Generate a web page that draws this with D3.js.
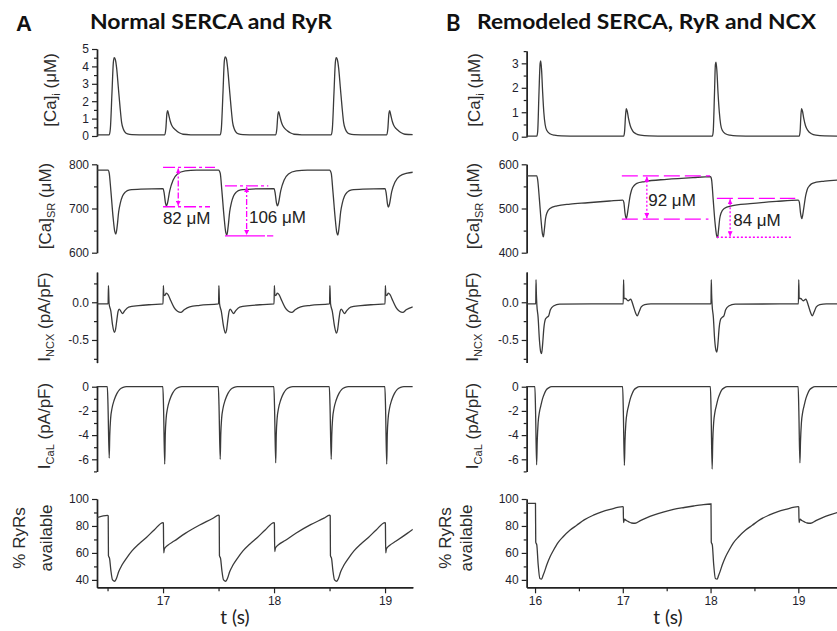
<!DOCTYPE html>
<html>
<head>
<meta charset="utf-8">
<script src="https://cdn.jsdelivr.net/npm/d3@7"></script>
<style>
  body { margin: 0; background: #fff; }
  svg { display: block; font-family: "Liberation Sans", Arial, sans-serif; }
</style>
</head>
<body>
<script>
const W = 837, H = 631;

// ---- traces, [t (s), value] ----
const caiA = [[16.405,0.06],[16.515,0.06],[16.525,0.4],[16.54,2.5],[16.552,4.2],[16.56,4.5],[16.57,4.4],[16.582,3.9],[16.597,2.8],[16.612,1.7],[16.627,0.77],[16.642,0.4],[16.657,0.22],[16.68,0.12],[16.72,0.08],[16.85,0.06],
  [17.015,0.06],[17.025,0.4],[17.035,1.3],[17.042,1.45],[17.05,1.25],[17.065,0.85],[17.078,0.62],[17.1,0.42],[17.123,0.29],[17.15,0.17],[17.18,0.1],[17.25,0.07],
  [17.515,0.06],[17.525,0.4],[17.54,2.5],[17.552,4.3],[17.56,4.55],[17.57,4.45],[17.582,3.9],[17.597,2.8],[17.612,1.7],[17.627,0.77],[17.642,0.4],[17.657,0.22],[17.68,0.12],[17.72,0.08],[17.85,0.06],
  [18.015,0.06],[18.025,0.4],[18.035,1.25],[18.042,1.4],[18.05,1.2],[18.065,0.82],[18.078,0.6],[18.1,0.41],[18.123,0.28],[18.15,0.17],[18.18,0.1],[18.25,0.07],
  [18.515,0.06],[18.525,0.4],[18.54,2.5],[18.552,4.2],[18.56,4.5],[18.57,4.4],[18.582,3.9],[18.597,2.8],[18.612,1.7],[18.627,0.77],[18.642,0.4],[18.657,0.22],[18.68,0.12],[18.72,0.08],[18.85,0.06],
  [19.015,0.06],[19.025,0.4],[19.035,1.3],[19.042,1.45],[19.05,1.25],[19.065,0.85],[19.078,0.62],[19.1,0.42],[19.123,0.29],[19.15,0.17],[19.18,0.1],[19.25,0.08]];

const caiB = [[15.905,0.02],[16.02,0.02],[16.03,0.2],[16.045,1.8],[16.058,3.0],[16.065,3.1],[16.075,2.7],[16.087,1.8],[16.1,1.0],[16.115,0.5],[16.135,0.25],[16.17,0.12],[16.22,0.06],[16.3,0.03],[16.5,0.02],[17.01,0.02],
  [17.02,0.2],[17.032,0.9],[17.04,1.15],[17.05,1.05],[17.065,0.75],[17.085,0.45],[17.11,0.25],[17.15,0.12],[17.2,0.06],[17.3,0.03],[17.5,0.02],[18.02,0.02],
  [18.03,0.2],[18.045,1.8],[18.055,2.95],[18.062,3.05],[18.072,2.7],[18.085,1.8],[18.1,1.0],[18.115,0.5],[18.135,0.25],[18.17,0.12],[18.22,0.06],[18.3,0.03],[18.5,0.02],[19.01,0.02],
  [19.02,0.2],[19.03,0.9],[19.037,1.15],[19.047,1.05],[19.062,0.75],[19.082,0.45],[19.11,0.25],[19.15,0.12],[19.2,0.06],[19.3,0.03],[19.5,0.02]];

const caSrA = [[16.405,787],[16.505,787],[16.515,780],[16.53,740],[16.55,680],[16.565,648],[16.575,642],[16.587,660],[16.6,692],[16.615,712],[16.635,728],[16.66,737],[16.7,742],[16.8,744],[17.0,745],
  [17.01,735],[17.022,712],[17.03,706],[17.04,712],[17.06,740],[17.09,764],[17.13,778],[17.2,785],[17.3,787],[17.5,787],
  [17.515,780],[17.53,740],[17.55,680],[17.565,646],[17.575,640],[17.587,660],[17.6,692],[17.615,712],[17.635,728],[17.66,737],[17.7,742],[17.8,744],[18.0,745],
  [18.01,735],[18.022,712],[18.03,706],[18.04,712],[18.06,740],[18.09,764],[18.13,778],[18.2,785],[18.3,787],[18.5,787],
  [18.515,780],[18.53,740],[18.55,680],[18.565,646],[18.575,640],[18.587,660],[18.6,692],[18.615,712],[18.635,728],[18.66,737],[18.7,742],[18.8,744],[19.0,745],
  [19.01,735],[19.022,710],[19.03,703],[19.04,710],[19.06,738],[19.09,760],[19.13,773],[19.2,780],[19.25,782]];

const caSrB = [[15.905,574],[16.02,574],[16.03,565],[16.05,520],[16.07,470],[16.085,442],[16.095,436],[16.105,450],[16.12,478],[16.135,490],[16.17,500],[16.25,506],[16.4,510],[16.6,513],[16.85,517],[17.0,519],
  [17.012,514],[17.025,490],[17.04,477],[17.05,485],[17.065,505],[17.085,530],[17.1,542],[17.13,552],[17.16,557],[17.25,561],[17.5,566],[17.8,570],[18.0,572],
  [18.012,565],[18.03,520],[18.05,470],[18.068,440],[18.08,434],[18.09,450],[18.105,478],[18.12,490],[18.155,500],[18.24,506],[18.45,511],[18.75,516],[19.0,519],
  [19.012,514],[19.025,490],[19.04,477],[19.05,485],[19.065,505],[19.085,530],[19.1,542],[19.13,552],[19.16,557],[19.3,562],[19.5,565]];

const ncxA = [[16.405,-0.02],[16.505,-0.02],[16.508,0.22],[16.511,0.1],[16.514,-0.02],[16.53,-0.12],[16.545,-0.3],[16.562,-0.4],[16.572,-0.36],[16.585,-0.22],[16.595,-0.12],[16.605,-0.09],[16.62,-0.12],[16.635,-0.15],[16.655,-0.11],[16.69,-0.065],[16.78,-0.045],[16.9,-0.03],
  [17.0,-0.02],[17.003,0.22],[17.007,0.1],[17.015,0.09],[17.03,0.12],[17.045,0.1],[17.07,0.02],[17.1,-0.07],[17.13,-0.12],[17.16,-0.135],[17.19,-0.1],[17.24,-0.06],[17.33,-0.04],
  [17.5,-0.02],[17.503,0.22],[17.506,0.1],[17.509,-0.02],[17.525,-0.12],[17.545,-0.32],[17.562,-0.41],[17.572,-0.37],[17.585,-0.22],[17.595,-0.12],[17.605,-0.09],[17.62,-0.12],[17.635,-0.15],[17.655,-0.11],[17.69,-0.065],[17.78,-0.045],[17.9,-0.03],
  [18.0,-0.02],[18.003,0.22],[18.007,0.1],[18.015,0.09],[18.03,0.12],[18.045,0.1],[18.07,0.02],[18.1,-0.07],[18.13,-0.12],[18.16,-0.135],[18.19,-0.1],[18.24,-0.06],[18.33,-0.04],
  [18.5,-0.02],[18.503,0.22],[18.506,0.1],[18.509,-0.02],[18.525,-0.12],[18.545,-0.32],[18.562,-0.41],[18.572,-0.37],[18.585,-0.22],[18.595,-0.12],[18.605,-0.09],[18.62,-0.12],[18.635,-0.15],[18.655,-0.11],[18.69,-0.065],[18.78,-0.045],[18.9,-0.03],
  [19.0,-0.02],[19.003,0.22],[19.007,0.1],[19.015,0.09],[19.03,0.12],[19.045,0.1],[19.07,0.02],[19.1,-0.07],[19.13,-0.12],[19.16,-0.135],[19.19,-0.1],[19.25,-0.06]];

const ncxB = [[15.905,-0.02],[16.008,-0.02],[16.011,0.3],[16.015,0.12],[16.02,-0.02],[16.035,-0.2],[16.05,-0.5],[16.065,-0.66],[16.075,-0.68],[16.087,-0.55],[16.1,-0.35],[16.12,-0.22],[16.135,-0.2],[16.155,-0.18],[16.175,-0.1],[16.21,-0.05],[16.28,-0.025],
  [17.005,-0.02],[17.009,0.3],[17.014,0.05],[17.03,0.05],[17.06,0.02],[17.09,0.04],[17.12,-0.05],[17.145,-0.14],[17.165,-0.18],[17.185,-0.13],[17.21,-0.06],[17.25,-0.03],[17.32,-0.02],
  [18.005,-0.02],[18.008,0.3],[18.012,0.12],[18.017,-0.02],[18.032,-0.2],[18.047,-0.5],[18.062,-0.64],[18.072,-0.66],[18.084,-0.55],[18.097,-0.35],[18.117,-0.22],[18.132,-0.2],[18.152,-0.18],[18.172,-0.1],[18.207,-0.05],[18.28,-0.025],
  [19.001,-0.02],[19.005,0.3],[19.01,0.05],[19.026,0.05],[19.056,0.02],[19.086,0.04],[19.116,-0.05],[19.141,-0.14],[19.158,-0.18],[19.18,-0.13],[19.205,-0.06],[19.245,-0.03],[19.32,-0.02],[19.5,-0.02]];

const calA = [[16.405,0],[16.498,0],[16.504,-1.5],[16.515,-5.9],[16.52,-4.0],[16.528,-2.6],[16.54,-1.8],[16.56,-1.1],[16.585,-0.55],[16.61,-0.22],[16.64,-0.05],[16.67,0],
  [16.998,0],[17.004,-1.5],[17.015,-6.4],[17.02,-4.0],[17.028,-2.6],[17.04,-1.8],[17.06,-1.1],[17.085,-0.55],[17.11,-0.22],[17.14,-0.05],[17.17,0],
  [17.498,0],[17.504,-1.5],[17.515,-6.0],[17.52,-4.0],[17.528,-2.6],[17.54,-1.8],[17.56,-1.1],[17.585,-0.55],[17.61,-0.22],[17.64,-0.05],[17.67,0],
  [17.998,0],[18.004,-1.5],[18.015,-6.3],[18.02,-4.0],[18.028,-2.6],[18.04,-1.8],[18.06,-1.1],[18.085,-0.55],[18.11,-0.22],[18.14,-0.05],[18.17,0],
  [18.498,0],[18.504,-1.5],[18.515,-6.0],[18.52,-4.0],[18.528,-2.6],[18.54,-1.8],[18.56,-1.1],[18.585,-0.55],[18.61,-0.22],[18.64,-0.05],[18.67,0],
  [18.998,0],[19.004,-1.5],[19.015,-6.4],[19.02,-4.0],[19.028,-2.6],[19.04,-1.8],[19.06,-1.1],[19.085,-0.55],[19.11,-0.22],[19.14,-0.05],[19.17,0],[19.25,0]];

const calB = [[15.905,0],[15.998,0],[16.006,-2],[16.018,-6.45],[16.025,-4.5],[16.035,-3.0],[16.05,-2.1],[16.065,-1.6],[16.085,-1.0],[16.105,-0.6],[16.13,-0.25],[16.155,-0.1],[16.19,0],
  [16.998,0],[17.006,-2],[17.018,-6.5],[17.025,-4.5],[17.035,-3.0],[17.05,-2.1],[17.065,-1.6],[17.085,-1.0],[17.105,-0.6],[17.13,-0.25],[17.155,-0.1],[17.19,0],
  [17.998,0],[18.006,-2],[18.018,-6.8],[18.025,-4.5],[18.035,-3.0],[18.05,-2.1],[18.065,-1.6],[18.085,-1.0],[18.105,-0.6],[18.13,-0.25],[18.155,-0.1],[18.19,0],
  [18.998,0],[19.006,-2],[19.018,-6.3],[19.025,-4.5],[19.035,-3.0],[19.05,-2.1],[19.065,-1.6],[19.085,-1.0],[19.105,-0.6],[19.13,-0.25],[19.155,-0.1],[19.19,0],[19.5,0]];

const ryrA = [[16.405,86.2],[16.5,87.8],[16.506,87.5],[16.508,58],[16.518,56],[16.53,47],[16.545,40],[16.565,39],[16.58,41],[16.6,46],[16.63,51],[16.67,56],[16.72,61.5],[16.78,66.5],[16.85,71.5],[16.92,77],[17.0,82.5],
  [17.003,82],[17.006,60],[17.012,63],[17.04,65.5],[17.1,68.8],[17.2,74.5],[17.33,80.7],[17.45,85.7],[17.5,88],
  [17.506,87.5],[17.508,58],[17.518,56],[17.53,47],[17.545,40],[17.565,39],[17.58,41],[17.6,46],[17.63,51],[17.67,56],[17.72,61.5],[17.78,66.5],[17.85,71.5],[17.92,77],[18.0,82.5],
  [18.003,82],[18.006,61],[18.012,63.5],[18.04,66],[18.1,69.2],[18.2,74.8],[18.33,81],[18.45,85.8],[18.5,88],
  [18.506,87.5],[18.508,58],[18.518,56],[18.53,47],[18.545,40],[18.565,39],[18.58,41],[18.6,46],[18.63,51],[18.67,56],[18.72,61.5],[18.78,66.5],[18.85,71.5],[18.92,77],[19.0,82.5],
  [19.003,82],[19.006,60],[19.012,63],[19.04,65.5],[19.1,68.8],[19.2,74.5],[19.25,77.5]];

const ryrB = [[15.905,96.8],[16.005,96.8],[16.008,68],[16.02,66],[16.035,52],[16.055,41],[16.075,40.5],[16.09,43],[16.11,46.5],[16.133,51],[16.17,57],[16.21,62],[16.26,67.5],[16.32,72],[16.4,77],[16.475,80.5],[16.56,84.5],[16.665,88],[16.76,90.5],[16.856,92.3],[17.0,94.3],
  [17.005,94],[17.008,82.5],[17.02,85],[17.04,84],[17.07,83],[17.1,82.2],[17.14,82],[17.2,84],[17.27,86],[17.35,88],[17.46,90.3],[17.578,92.3],[17.7,93.7],[17.806,94.8],[17.9,95.7],[18.0,96.3],
  [18.005,96.3],[18.008,68],[18.02,66],[18.035,52],[18.055,41],[18.075,40.5],[18.09,43],[18.11,46.5],[18.133,51],[18.17,57],[18.21,62],[18.26,67.5],[18.32,72],[18.4,77],[18.475,80.5],[18.56,84.5],[18.665,88],[18.76,90.5],[18.856,92.3],[19.0,94.3],
  [19.005,94],[19.008,82.5],[19.02,85],[19.04,84],[19.07,83],[19.1,82.2],[19.14,82],[19.2,84],[19.27,86],[19.35,88],[19.46,90.3],[19.5,91]];

// ---- tick values ----
const xMajorA = [17, 18, 19], xMinorA = [16.5, 17.5, 18.5];
const xMajorB = [16, 17, 18, 19], xMinorB = [16.5, 17.5, 18.5];

// ---- SR depletion annotations (values in µM, times in s) ----
const annA = [
  {top: 793, bottom: 704, from: 17.0, toTop: 17.468, toBottom: 17.423, at: 17.137, label: "82 μM", labelT: 17.213, labelV: 665},
  {top: 751, bottom: 638, from: 17.558, toTop: 17.948, toBottom: 17.993, at: 17.753, label: "106 μM", labelT: 17.774, labelV: 667}
];
const annB = [
  {top: 574, bottom: 476, from: 16.989, toTop: 17.995, toBottom: 17.976, at: 17.274, label: "92 μM", labelT: 17.29, labelV: 505},
  {top: 523, bottom: 435, from: 18.072, toTop: 18.965, toBottom: 18.927, at: 18.223, label: "84 μM", labelT: 18.258, labelV: 460}
];

const svg = d3.select("body").append("svg").attr("width", W).attr("height", H);
const defs = svg.append("defs");
defs.append("marker").attr("id", "arr")
  .attr("viewBox", "0 0 6 6").attr("refX", 6).attr("refY", 3)
  .attr("markerWidth", 5).attr("markerHeight", 5).attr("markerUnits", "userSpaceOnUse")
  .attr("orient", "auto-start-reverse")
  .append("path").attr("d", "M0,0L6,3L0,6z").attr("fill", "#ff00ff");

const cols = {
  A: {id: "A", x: d3.scaleLinear().domain([16.405, 19.25]).range([97, 412.8])},
  B: {id: "B", x: d3.scaleLinear().domain([15.905, 19.5]).range([526.7, 842.2])}
};
Object.values(cols).forEach(c => {
  defs.append("clipPath").attr("id", "clip" + c.id).append("rect")
    .attr("x", c.x.range()[0]).attr("y", 30).attr("width", c.x.range()[1] - c.x.range()[0]).attr("height", 580);
});

const AX = "#222";
const TXT = "#1e1e2e";

function styleAxis(g) {
  g.select(".domain").attr("stroke", AX).attr("stroke-width", 1.4);
  g.selectAll(".tick line").attr("stroke", AX).attr("stroke-width", 1.2);
  g.selectAll(".tick text").attr("fill", TXT).attr("font-size", 12).attr("font-family", "Liberation Sans, Arial, sans-serif");
}

function panel(col, dom, rng, data, major, minor, fmt) {
  const y = d3.scaleLinear().domain(dom).range(rng);
  const x = col.x;
  svg.append("g").attr("transform", `translate(${x.range()[0]},0)`)
    .call(d3.axisLeft(y).tickValues(minor).tickSize(3).tickSizeOuter(0).tickFormat(""))
    .call(styleAxis);
  svg.append("g").attr("transform", `translate(${x.range()[0]},0)`)
    .call(d3.axisLeft(y).tickValues(major).tickSize(5).tickPadding(3).tickSizeOuter(0).tickFormat(fmt))
    .call(styleAxis);
  const line = d3.line().x(d => x(d[0])).y(d => y(d[1])).curve(d3.curveMonotoneX);
  svg.append("path").datum(data)
    .attr("clip-path", `url(#clip${col.id})`)
    .attr("fill", "none").attr("stroke", "#3a3a3a").attr("stroke-width", 1.3)
    .attr("d", line);
  return y;
}

function yLabel(x, y, parts, size) {
  const t = svg.append("text")
    .attr("transform", `translate(${x},${y}) rotate(-90)`)
    .attr("text-anchor", "middle").attr("font-size", size || 17).attr("fill", "#2b2b2b");
  let sub = false;
  parts.forEach(p => {
    const isSub = p[1] === true;
    t.append("tspan").text(p[0])
      .attr("dy", isSub && !sub ? 4 : (!isSub && sub ? -4 : 0))
      .attr("font-size", isSub ? 11 : null);
    sub = isSub;
  });
}

const f0 = d => String(d);
const f1 = d => d.toFixed(1);

// Column A
const yCaiA = panel(cols.A, [0, 5], [136, 49], caiA, [0, 1, 2, 3, 4, 5], [0.5, 1.5, 2.5, 3.5, 4.5], f0);
const ySrA = panel(cols.A, [600, 800], [252.7, 164.3], caSrA, [600, 700, 800], [650, 750], f0);
const yNcxA = panel(cols.A, [-0.8, 0.4], [362.6, 272.1], ncxA, [-0.5, 0], [-0.75, -0.25, 0.25], f1);
const yCalA = panel(cols.A, [-7, 0.1], [471.4, 385.5], calA, [-6, -4, -2, 0], [-7, -5, -3, -1], f0);
const yRyrA = panel(cols.A, [34.5, 100], [587.3, 499], ryrA, [40, 60, 80, 100], [50, 70, 90], f0);

// Column B
const yCaiB = panel(cols.B, [0, 3.5], [136.7, 51.1], caiB, [0, 1, 2, 3], [0.5, 1.5, 2.5, 3.5], f0);
const ySrB = panel(cols.B, [400, 600], [252.7, 164.3], caSrB, [400, 500, 600], [450, 550], f0);
const yNcxB = panel(cols.B, [-0.8, 0.4], [362.6, 272.1], ncxB, [-0.5, 0], [-0.75, -0.25, 0.25], f1);
const yCalB = panel(cols.B, [-7, 0.1], [471.4, 385.5], calB, [-6, -4, -2, 0], [-7, -5, -3, -1], f0);
const yRyrB = panel(cols.B, [34.5, 100], [587.3, 499], ryrB, [40, 60, 80, 100], [50, 70, 90], f0);

// x axes (bottom row only)
[[cols.A, xMajorA, xMinorA], [cols.B, xMajorB, xMinorB]].forEach(([c, maj, min]) => {
  svg.append("g").attr("transform", "translate(0,587.3)")
    .call(d3.axisBottom(c.x).tickValues(min).tickSize(4).tickSizeOuter(0).tickFormat(""))
    .call(styleAxis);
  svg.append("g").attr("transform", "translate(0,587.3)")
    .call(d3.axisBottom(c.x).tickValues(maj).tickSize(6).tickPadding(3).tickSizeOuter(0).tickFormat(d3.format("d")))
    .call(styleAxis);
});
svg.append("text").attr("x", 235).attr("y", 624).attr("text-anchor", "middle")
  .attr("font-family", "Lato, sans-serif").attr("font-size", 19).attr("fill", "#222").text("t (s)");
svg.append("text").attr("x", 668).attr("y", 624).attr("text-anchor", "middle")
  .attr("font-family", "Lato, sans-serif").attr("font-size", 19).attr("fill", "#222").text("t (s)");

// y labels
yLabel(56, 90, [["[Ca]"], ["i", true], [" (μM)"]]);
yLabel(51, 206, [["[Ca]"], ["SR", true], [" (μM)"]]);
yLabel(50, 317, [["I"], ["NCX", true], [" (pA/pF)"]]);
yLabel(50, 426, [["I"], ["CaL", true], [" (pA/pF)"]]);
yLabel(25, 538, [["% RyRs"]]);
yLabel(52, 538, [["available"]]);

yLabel(480, 90, [["[Ca]"], ["i", true], [" (μM)"]]);
yLabel(479, 206, [["[Ca]"], ["SR", true], [" (μM)"]]);
yLabel(478, 317, [["I"], ["NCX", true], [" (pA/pF)"]]);
yLabel(478, 426, [["I"], ["CaL", true], [" (pA/pF)"]]);
yLabel(451, 538, [["% RyRs"]]);
yLabel(472, 538, [["available"]]);

// titles
svg.append("text").attr("x", 16).attr("y", 31).attr("font-size", 22).attr("font-weight", "bold").attr("fill", "#111").text("A");
svg.append("text").attr("x", 90).attr("y", 29).attr("font-family", "Lato, sans-serif").attr("font-size", 21).attr("font-weight", "bold")
  .attr("fill", "#111").attr("textLength", 242).attr("lengthAdjust", "spacingAndGlyphs").text("Normal SERCA and RyR");
svg.append("text").attr("x", 446).attr("y", 31).attr("font-family", "Lato, sans-serif").attr("font-size", 22).attr("font-weight", "bold").attr("fill", "#111").text("B");
svg.append("text").attr("x", 477).attr("y", 29).attr("font-family", "Lato, sans-serif").attr("font-size", 21).attr("font-weight", "bold")
  .attr("fill", "#111").attr("textLength", 339).attr("lengthAdjust", "spacingAndGlyphs").text("Remodeled SERCA, RyR and NCX");

// annotations
function annotate(col, y, list, styles) {
  const x = col.x;
  const g = svg.append("g").attr("stroke", "#ff00ff").attr("stroke-width", 1.3).attr("fill", "none");
  list.forEach((a, i) => {
    const s = styles[i];
    g.append("line").attr("x1", x(a.from)).attr("x2", x(a.toTop)).attr("y1", y(a.top)).attr("y2", y(a.top)).attr("stroke-dasharray", s.top);
    g.append("line").attr("x1", x(a.from)).attr("x2", x(a.toBottom)).attr("y1", y(a.bottom)).attr("y2", y(a.bottom)).attr("stroke-dasharray", s.bottom);
    g.append("line").attr("x1", x(a.at)).attr("x2", x(a.at)).attr("y1", y(a.top) + 1).attr("y2", y(a.bottom) - 1)
      .attr("stroke-dasharray", s.vert).attr("marker-start", "url(#arr)").attr("marker-end", "url(#arr)");
    svg.append("text").attr("x", x(a.labelT)).attr("y", y(a.labelV))
      .attr("text-anchor", i === 0 && col.id === "A" ? "middle" : "start")
      .attr("font-size", 17).attr("fill", "#222").text(a.label);
  });
}
annotate(cols.A, ySrA, annA, [
  {top: "12,3,3,3", bottom: "12,3,3,3", vert: "6,2,2,2"},
  {top: "12,3,3,3", bottom: "40,2", vert: "6,2,2,2"}
]);
annotate(cols.B, ySrB, annB, [
  {top: "16,5", bottom: "16,5", vert: "2,2"},
  {top: "16,5", bottom: "2,2", vert: "2,2"}
]);
</script>
</body>
</html>
